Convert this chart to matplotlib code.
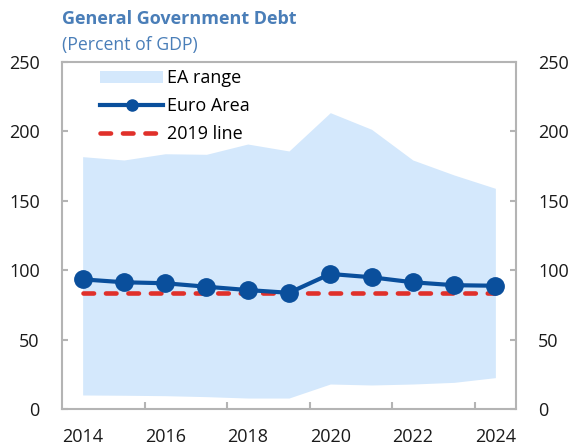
import matplotlib
matplotlib.use("Agg")
import matplotlib.pyplot as plt
from matplotlib.lines import Line2D
from matplotlib.patches import Patch

plt.rcParams['font.family'] = ['Open Sans', 'DejaVu Sans']

years = list(range(2014, 2025))
euro_area = [93.4, 91.3, 90.6, 88.1, 85.7, 83.7, 97.3, 94.9, 91.3, 89.2, 88.8]
range_high = [181.8, 179.4, 183.9, 183.5, 190.9, 185.9, 213.5, 201.5, 179.4, 168.6, 159.0]
range_low = [10.1, 9.9, 9.6, 8.9, 7.9, 7.9, 18.0, 17.3, 18.0, 19.2, 22.6]
line_2019 = euro_area[years.index(2019)]
xtick_labels = ['2014', '2016', '2018', '2020', '2022', '2024']
yticks = [0, 50, 100, 150, 200, 250]

BLUE = '#0A4F9C'
RED = '#E0302A'
FILL = '#D4E8FC'
GREY = '#B4B4B4'
TITLE = '#4A7EB8'

W, H = 571, 445
fig = plt.figure(figsize=(W / 100, H / 100), dpi=100)
ax = fig.add_axes([62 / W, 1 - 409 / H, (516 - 62) / W, (409 - 62) / H])

ax.fill_between(years, range_low, range_high, color=FILL, lw=0, zorder=1)
ax.plot(years, [line_2019] * len(years), color=RED, lw=3.3,
        linestyle=(0, (2.3, 2.6)), dash_capstyle='round', zorder=3)
ax.plot(years, euro_area, color=BLUE, lw=3.0, marker='o', markersize=12.5,
        zorder=4)

ax.set_xlim(years[0] - 0.5, years[-1] + 0.5)
ax.set_ylim(0, 250)

# labels at even years, tick marks between categories
ax.set_xticks([int(y) for y in xtick_labels], xtick_labels)
ax.set_xticks([y + 1.5 for y in range(2014, 2024, 2)], minor=True)
ax.tick_params(axis='x', which='major', length=0, pad=14, labelsize=13,
               colors='#1a1a1a')
ax.tick_params(axis='x', which='minor', direction='in', length=5, width=1.5,
               color=GREY)

ax.set_yticks(yticks)
ax.tick_params(axis='y', which='major', direction='in', length=4, width=1.5,
               color=GREY, left=True, right=True, labelleft=True,
               labelright=True, pad=16, labelsize=13, labelcolor='#1a1a1a')

for s in ax.spines.values():
    s.set_color(GREY)
    s.set_linewidth(1.5)

fig.text(62 / W, 1 - 19 / H, 'General Government Debt', color=TITLE,
         fontsize=13, fontweight='bold', va='center', ha='left')
fig.text(62 / W, 1 - 45 / H, '(Percent of GDP)', color=TITLE,
         fontsize=12.7, va='center', ha='left')

handles = [
    Patch(facecolor=FILL, edgecolor='none'),
    Line2D([], [], color=BLUE, lw=3.0, marker='o', markersize=8),
    Line2D([], [], color=RED, lw=3.3, linestyle=(0, (2.3, 2.6)),
           dash_capstyle='round'),
]
labels = ['EA range', 'Euro Area', '2019 line']
leg = fig.legend(handles, labels, loc='upper left',
                 bbox_to_anchor=(93 / W, 1 - 62 / H), frameon=False,
                 fontsize=13, handlelength=3.5, handleheight=0.6,
                 handletextpad=0.2, labelspacing=0.55, borderaxespad=0)

fig.savefig('out.png', dpi=100)
